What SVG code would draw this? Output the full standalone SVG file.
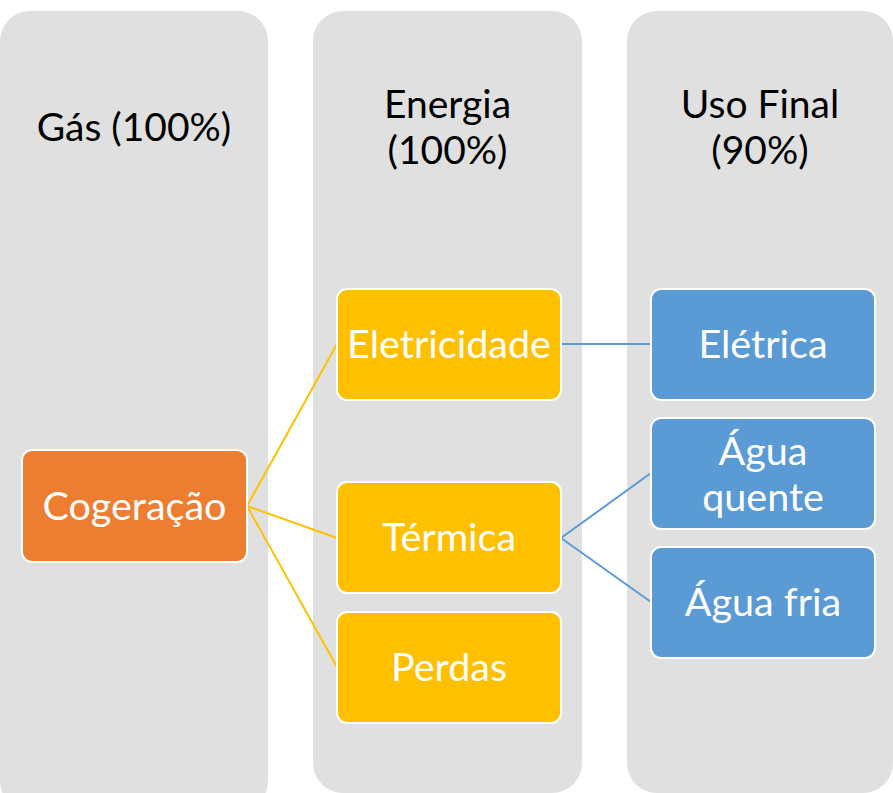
<svg xmlns="http://www.w3.org/2000/svg" width="893" height="793" viewBox="0 0 893 793">
<style>
.col{fill:#E0E0E0}
.title{font-family:Lato,"Liberation Sans",sans-serif;font-size:39px;fill:#000;text-anchor:middle}
.node rect{stroke:#FFFFFF;stroke-width:2}
.node text{font-family:Lato,"Liberation Sans",sans-serif;font-size:39.5px;fill:#FFFFFF;text-anchor:middle;dominant-baseline:central}
.orange{fill:#ED7D31}
.yellow{fill:#FFC000}
.blue{fill:#5B9BD5}
.cy{stroke:#FFC000;stroke-width:2;fill:none}
.cb{stroke:#5B9BD5;stroke-width:2;fill:none}
</style>
<rect width="893" height="793" fill="#FFFFFF"/>
<g id="columns">
<g id="col-gas"><rect class="col" x="0" y="11" width="268" height="800" rx="30"/><text class="title" x="134" y="141">Gás (100%)</text></g>
<g id="col-energia"><rect class="col" x="313" y="11" width="269" height="782" rx="30"/><text class="title" x="447.5" y="118">Energia</text><text class="title" x="447.5" y="164">(100%)</text></g>
<g id="col-uso"><rect class="col" x="627" y="11" width="266" height="782" rx="30"/><text class="title" x="760" y="118">Uso Final</text><text class="title" x="760" y="164">(90%)</text></g>
</g>
<g id="connectors">
<line class="cy" x1="247" y1="506" x2="337" y2="344"/>
<line class="cy" x1="247" y1="506" x2="337" y2="538"/>
<line class="cy" x1="247" y1="506" x2="337" y2="667"/>
<line class="cb" x1="561" y1="344" x2="651" y2="344"/>
<line class="cb" x1="561" y1="538" x2="651" y2="473"/>
<line class="cb" x1="561" y1="538" x2="651" y2="602"/>
</g>
<g id="cogeracao" class="node"><rect class="orange" x="22" y="450" width="225" height="112" rx="10"/><text x="134.5" y="504">Cogeração</text></g>
<g id="eletricidade" class="node"><rect class="yellow" x="337" y="289" width="224" height="111" rx="10"/><text x="449" y="342.5">Eletricidade</text></g>
<g id="termica" class="node"><rect class="yellow" x="337" y="482" width="224" height="111" rx="10"/><text x="449" y="535.5">Térmica</text></g>
<g id="perdas" class="node"><rect class="yellow" x="337" y="612" width="224" height="111" rx="10"/><text x="449" y="665.5">Perdas</text></g>
<g id="eletrica" class="node"><rect class="blue" x="651" y="289" width="224" height="111" rx="10"/><text x="763" y="342.5">Elétrica</text></g>
<g id="agua-quente" class="node"><rect class="blue" x="651" y="418" width="224" height="111" rx="10"/><text x="763" y="449">Água</text><text x="763" y="495">quente</text></g>
<g id="agua-fria" class="node"><rect class="blue" x="651" y="547" width="224" height="111" rx="10"/><text x="763" y="600.5">Água fria</text></g>
</svg>
